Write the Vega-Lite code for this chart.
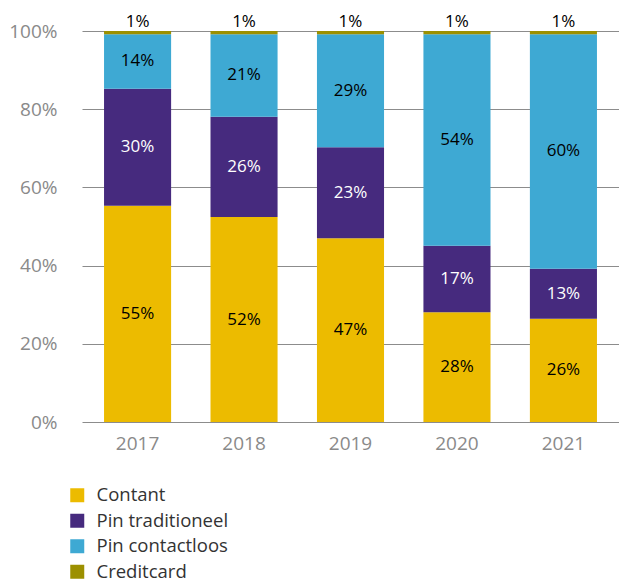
{
  "$schema": "https://vega.github.io/schema/vega-lite/v6.json",
  "autosize": "none",
  "width": 537,
  "height": 391,
  "padding": {"left": 82, "top": 31, "right": 0, "bottom": 160},
  "background": "white",
  "config": {
    "view": {"stroke": null},
    "font": "Open Sans",
    "legend": {"padding": 0}
  },
  "data": {
    "values": [
      {"year": "2017", "category": "Contant", "share": 0.553, "label": "55%"},
      {"year": "2017", "category": "Pin traditioneel", "share": 0.299, "label": "30%"},
      {"year": "2017", "category": "Pin contactloos", "share": 0.140, "label": "14%"},
      {"year": "2017", "category": "Creditcard", "share": 0.008, "label": "1%"},
      {"year": "2018", "category": "Contant", "share": 0.524, "label": "52%"},
      {"year": "2018", "category": "Pin traditioneel", "share": 0.257, "label": "26%"},
      {"year": "2018", "category": "Pin contactloos", "share": 0.211, "label": "21%"},
      {"year": "2018", "category": "Creditcard", "share": 0.008, "label": "1%"},
      {"year": "2019", "category": "Contant", "share": 0.470, "label": "47%"},
      {"year": "2019", "category": "Pin traditioneel", "share": 0.233, "label": "23%"},
      {"year": "2019", "category": "Pin contactloos", "share": 0.289, "label": "29%"},
      {"year": "2019", "category": "Creditcard", "share": 0.008, "label": "1%"},
      {"year": "2020", "category": "Contant", "share": 0.281, "label": "28%"},
      {"year": "2020", "category": "Pin traditioneel", "share": 0.170, "label": "17%"},
      {"year": "2020", "category": "Pin contactloos", "share": 0.541, "label": "54%"},
      {"year": "2020", "category": "Creditcard", "share": 0.008, "label": "1%"},
      {"year": "2021", "category": "Contant", "share": 0.264, "label": "26%"},
      {"year": "2021", "category": "Pin traditioneel", "share": 0.128, "label": "13%"},
      {"year": "2021", "category": "Pin contactloos", "share": 0.600, "label": "60%"},
      {"year": "2021", "category": "Creditcard", "share": 0.008, "label": "1%"}
    ]
  },
  "encoding": {
    "x": {
      "field": "year",
      "type": "nominal",
      "scale": {"paddingInner": 0.37, "paddingOuter": 0.207},
      "axis": {
        "title": null,
        "domain": false,
        "ticks": false,
        "labelAngle": 0,
        "labelFontSize": 19,
        "labelColor": "#8a8a8a",
        "labelPadding": 12
      }
    }
  },
  "layer": [
    {
      "transform": [
        {"stack": "share", "groupby": ["year"], "as": ["y0", "y1"]}
      ],
      "mark": {"type": "bar"},
      "encoding": {
        "y": {
          "field": "y0",
          "type": "quantitative",
          "scale": {"domain": [0, 1], "nice": false},
          "axis": {
            "title": null,
            "values": [0, 0.2, 0.4, 0.6, 0.8, 1],
            "format": ".0%",
            "domain": false,
            "ticks": false,
            "grid": true,
            "gridColor": "#8c8c8c",
            "gridWidth": 1.2,
            "labelFontSize": 19,
            "labelColor": "#8a8a8a",
            "labelPadding": 25
          }
        },
        "y2": {"field": "y1"},
        "color": {
          "field": "category",
          "type": "nominal",
          "scale": {
            "domain": ["Contant", "Pin traditioneel", "Pin contactloos", "Creditcard"],
            "range": ["#ECBB00", "#462A7E", "#3EA9D3", "#9C9000"]
          },
          "legend": {
            "title": null,
            "orient": "none",
            "legendX": -14,
            "legendY": 455,
            "direction": "vertical",
            "symbolType": "square",
            "symbolSize": 196,
            "symbolStrokeWidth": 0,
            "symbolOpacity": 1,
            "labelFontSize": 18.5,
            "labelColor": "#333333",
            "labelOffset": 10,
            "rowPadding": 6.5
          }
        }
      }
    },
    {
      "transform": [
        {"stack": "share", "groupby": ["year"], "as": ["y0", "y1"]},
        {"filter": "datum.category !== 'Creditcard'"},
        {"fold": ["y0", "y1"], "as": ["k", "v"]},
        {"aggregate": [{"op": "mean", "field": "v", "as": "mid"}], "groupby": ["year", "category", "label"]}
      ],
      "mark": {"type": "text", "fontSize": 17, "baseline": "middle"},
      "encoding": {
        "y": {"field": "mid", "type": "quantitative"},
        "text": {"field": "label"},
        "color": {
          "condition": {"test": "datum.category === 'Pin traditioneel'", "value": "#ffffff"},
          "value": "#000000"
        }
      }
    },
    {
      "transform": [
        {"stack": "share", "groupby": ["year"], "as": ["y0", "y1"]},
        {"filter": "datum.category === 'Creditcard'"}
      ],
      "mark": {"type": "text", "fontSize": 17, "baseline": "alphabetic", "dy": -4, "color": "#000000"},
      "encoding": {
        "y": {"field": "y1", "type": "quantitative"},
        "text": {"field": "label"}
      }
    }
  ]
}
